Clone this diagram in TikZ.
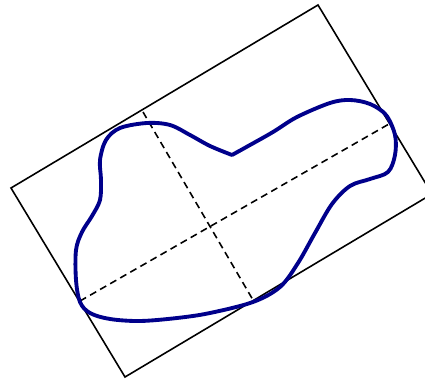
\documentclass[tikz,border=0pt]{standalone}
\usepackage{tikz}
\usetikzlibrary{calc}
\definecolor{blobblue}{RGB}{0,0,139}
\tikzset{
  frame/.style={draw=black, line width=0.9pt, line join=miter},
  blob/.style={draw=blobblue, line width=2.2pt, line join=round, line cap=round},
  axisline/.style={draw=black, line width=0.9pt, dash pattern=on 4pt off 2.6pt}
}

\begin{document}
\begin{tikzpicture}[x=0.02cm, y=-0.02cm]

\useasboundingbox (0,0) rectangle (425,378);

% bounding rectangle corners
\coordinate (left) at (11,188);
\coordinate (top) at (318,5);
\coordinate (right) at (432,194);
\coordinate (bottom) at (125,377);

% axis end points
\coordinate (longA) at (80,301);
\coordinate (longB) at (389,124);
\coordinate (shortA) at (143,112);
\coordinate (shortB) at (253,300);

\draw[frame] (left) -- (top) -- (right) -- (bottom) -- cycle;

\draw[axisline] (longA) -- (longB);
\draw[axisline] (shortA) -- (shortB);

% outline, starting and ending at the notch
\draw[blob] plot[smooth, tension=0.55] coordinates {
  (232,155) (250,145) (273,132)
  (297,117) (330,103) (350,100) (370,104) (386,115) (395,135) (395,155)
  (388,172) (370,179) (350,186) (332,204) (315,233) (298,263) (280,287)
  (253,302) (210,313) (177,318) (140,321) (110,319) (90,313) (80,302)
  (76,280) (76,250) (82,232) (92,216) (100,200) (101,180) (100,160)
  (106,140) (120,128) (147,123) (170,125) (190,135) (210,146) (232,155)};

\end{tikzpicture}
\end{document}
